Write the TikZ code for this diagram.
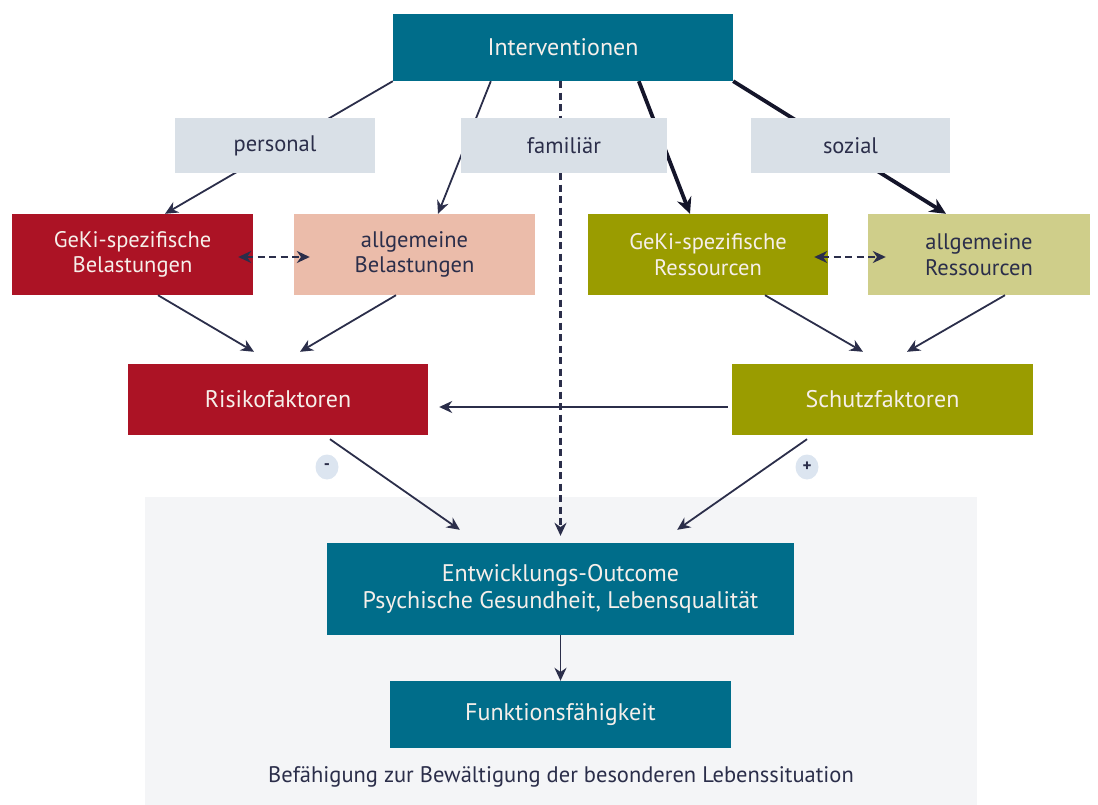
\documentclass[tikz,border=0pt]{standalone}
\usepackage{fontspec}
\setmainfont{PT Sans}
\usetikzlibrary{arrows.meta,calc,shapes.geometric}
\definecolor{teal}{HTML}{006D8A}
\definecolor{dred}{HTML}{AC1325}
\definecolor{salmon}{HTML}{EBBCAA}
\definecolor{olive}{HTML}{9A9C00}
\definecolor{lolive}{HTML}{CFCE8A}
\definecolor{lgray}{HTML}{D9E0E7}
\definecolor{bggray}{HTML}{F4F5F7}
\definecolor{circ}{HTML}{DCE5F0}
\definecolor{navy}{HTML}{2B2E4A}
\definecolor{dnavy}{HTML}{14152A}
\definecolor{wtext}{HTML}{F6EFEA}
\pgfdeclarelayer{bg}
\pgfsetlayers{bg,main}
\tikzset{
  box/.style={rectangle, inner sep=0pt, align=center, font=\fontsize{22.5}{25.5}\selectfont},
  bigtext/.style={font=\fontsize{24}{27}\selectfont},
  darkbox/.style={box, text=wtext},
  lightbox/.style={box, text=navy},
  conn/.style={draw=navy, line width=1.8pt, -{Stealth[length=13pt,width=12pt]}},
  thickconn/.style={draw=dnavy, line width=3.8pt, -{Stealth[length=16pt,width=15pt]}},
  dconn/.style={draw=navy, line width=2.2pt, dash pattern=on 7pt off 4.5pt},
  signc/.style={ellipse, fill=circ, minimum width=23pt, minimum height=25pt, inner sep=0pt, text=navy, font=\fontsize{17}{17}\selectfont\bfseries}
}
\begin{document}
\begin{tikzpicture}[x=1pt,y=-1pt]
\useasboundingbox (0,0) rectangle (1098,805);
\begin{pgfonlayer}{bg}
\fill[bggray] (145,497) rectangle (977,805);
\end{pgfonlayer}
% nodes
\node[darkbox, fill=teal, minimum width=340pt, minimum height=67pt, bigtext] (int) at (563,47.5) {Interventionen};
\node[lightbox, fill=lgray, minimum width=200pt, minimum height=55pt] (pers) at (275,145.5) {personal};
\node[lightbox, fill=lgray, minimum width=206pt, minimum height=55pt] (fam) at (564,145.5) {familiär};
\node[lightbox, fill=lgray, minimum width=199pt, minimum height=55pt] (soz) at (850.5,145.5) {sozial};
\node[darkbox, fill=dred, minimum width=241pt, minimum height=81pt] (gekib) at (132.5,254.5) {GeKi-spezifische\\Belastungen};
\node[lightbox, fill=salmon, minimum width=241pt, minimum height=81pt] (allgb) at (414.5,254.5) {allgemeine\\Belastungen};
\node[darkbox, fill=olive, minimum width=240pt, minimum height=81pt] (gekir) at (708,254.5) {GeKi-spezifische\\Ressourcen};
\node[lightbox, fill=lolive, minimum width=222pt, minimum height=81pt] (allgr) at (979,254.5) {allgemeine\\Ressourcen};
\node[darkbox, fill=dred, minimum width=300pt, minimum height=71pt, bigtext] (risk) at (278,399.5) {Risikofaktoren};
\node[darkbox, fill=olive, minimum width=301pt, minimum height=71pt, bigtext] (schutz) at (882.5,399.5) {Schutzfaktoren};
\node[darkbox, fill=teal, minimum width=467pt, minimum height=92pt, bigtext] (outc) at (560.5,589) {Entwicklungs-Outcome\\Psychische Gesundheit, Lebensqualität};
\node[darkbox, fill=teal, minimum width=341pt, minimum height=67pt, bigtext] (funk) at (560.5,714.5) {Funktionsfähigkeit};
\node[lightbox] (capt) at (561,777) {Befähigung zur Bewältigung der besonderen Lebenssituation};
\node[signc] (minus) at (327,467) {-};
\node[signc] (plus) at (807,467) {+};
% connectors behind label boxes
\begin{pgfonlayer}{bg}
\draw[conn] (int.south west) -- ($(gekib.north)+(32.5,0)$);
\draw[conn] ($(int.south west)+(98,0)$) -- ($(allgb.north)+(23.5,0)$);
\draw[thickconn] ($(int.south west)+(246,0)$) -- ($(gekir.north)+(-18,0)$);
\draw[thickconn] (int.south east) -- ($(allgr.north)+(-33,0)$);
\draw[dconn, -{Stealth[length=13pt,width=12pt]}] (outc.north |- int.south) -- ($(outc.north)+(0,-7)$);
\end{pgfonlayer}
% other connectors
\draw[conn] ($(gekib.south)+(25.5,0)$) -- ($(risk.north)+(-24,-12)$);
\draw[conn] ($(allgb.south)+(-18.5,0)$) -- ($(risk.north)+(22,-12)$);
\draw[conn] ($(gekir.south)+(57,0)$) -- ($(schutz.north)+(-19.5,-12)$);
\draw[conn] ($(allgr.south)+(26,0)$) -- ($(schutz.north)+(24.5,-12)$);
\draw[conn] ($(schutz.west)+(-4,7.5)$) -- ($(risk.east)+(11,7.5)$);
\draw[conn] ($(risk.south)+(52,4)$) -- ($(outc.north west)+(133,-13)$);
\draw[conn] ($(schutz.south)+(-75.5,4)$) -- ($(outc.north east)+(-117,-13)$);
\draw[conn] (outc.south) -- (funk.north);
\draw[dconn, {Stealth[length=13pt,width=12pt]}-{Stealth[length=13pt,width=12pt]}, shorten <=-15pt, shorten >=-16pt] ($(gekib.east)+(0,2.5)$) -- ($(allgb.west)+(0,2.5)$);
\draw[dconn, {Stealth[length=13pt,width=12pt]}-{Stealth[length=13pt,width=12pt]}, shorten <=-14pt, shorten >=-18pt] ($(gekir.east)+(0,2.5)$) -- ($(allgr.west)+(0,2.5)$);
\end{tikzpicture}
\end{document}
